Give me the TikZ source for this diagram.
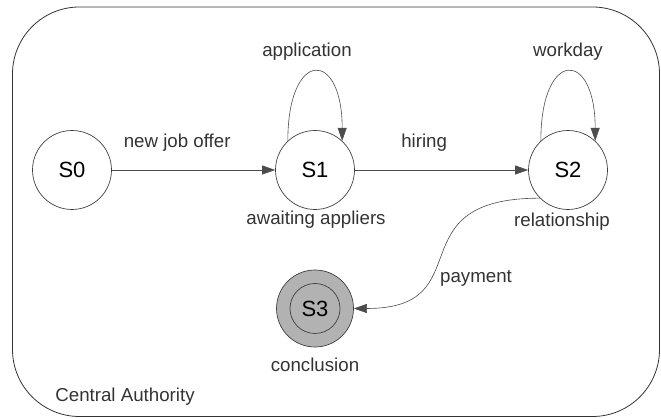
\documentclass[tikz,border=0pt]{standalone}
\usepackage{fontspec}
\setmainfont{Liberation Sans}
\usetikzlibrary{arrows.meta}

\begin{document}
\begin{tikzpicture}[x=1pt,y=1pt,
  statenode/.style={circle,draw=black!75,line width=.7pt,minimum size=79pt,inner sep=0pt,font=\fontsize{22}{24}\selectfont},
  endnode/.style={statenode,fill=black!30,minimum size=77pt},
  txt/.style={text=black!80,font=\fontsize{18.7}{22}\selectfont,inner sep=0pt,anchor=base},
  trans/.style={draw=black!70,line width=.6pt,-{Triangle[length=13pt,width=9pt]}}]
\useasboundingbox (0,0) rectangle (661,419);
\draw[black!80,line width=.8pt,rounded corners=67pt] (12.5,2.5) rectangle (659.5,412);
\node[txt] (authority) at (125,17.3) {Central Authority};
% states
\node[statenode] (S0) at (72,249) {S0};
\node[statenode] (S1) at (315,249) {S1};
\node[statenode] (S2) at (568,249) {S2};
\node[endnode] (S3) at (315,110.5) {};
\node[statenode,minimum size=50pt] (S3in) at (S3) {S3};
\node[txt] (awaiting) at (316,194) {awaiting appliers};
\node[txt] (relation) at (562,192) {relationship};
\node[txt] (concl) at (315,47.3) {conclusion};
\node[txt] (pay) at (476,136) {payment};
% transitions
\draw[trans] (S0) -- (S1) node[txt,pos=.4,yshift=22pt]{new job offer};
\draw[trans] (S1) -- (S2) node[txt,pos=.4,yshift=22pt]{hiring};
\draw[trans] (S1.133) .. controls +(0,92) and +(0,92) .. (S1.47) node[txt,pos=.5,xshift=-8pt,yshift=15pt]{application};
\draw[trans] (S2.133) .. controls +(0,92) and +(0,92) .. (S2.47) node[txt,pos=.5,yshift=15pt]{workday};
\draw[trans] (S2.225) .. controls +(-146,0) and +(129,0) .. (S3.east);
\end{tikzpicture}
\end{document}
